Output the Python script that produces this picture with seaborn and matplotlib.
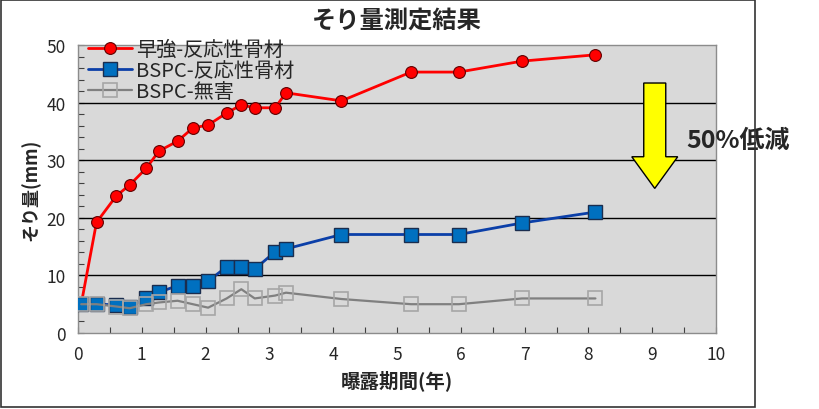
import matplotlib
matplotlib.use("Agg")
import matplotlib.pyplot as plt
from matplotlib.patches import Rectangle, FancyArrow
from matplotlib.ticker import MultipleLocator
import seaborn as sns
import pandas as pd

sns.set_style("ticks")
plt.rcParams['font.family'] = ['Noto Sans CJK JP', 'DejaVu Sans']

# ---- data ----
red_x = [0.05, 0.29, 0.60, 0.81, 1.07, 1.27, 1.56, 1.80, 2.04, 2.33, 2.56, 2.77, 3.09, 3.26, 4.13, 5.22, 5.97, 6.96, 8.11]
red_y = [5.0, 19.2, 23.8, 25.7, 28.6, 31.6, 33.3, 35.6, 36.1, 38.2, 39.6, 39.1, 39.1, 41.7, 40.3, 45.3, 45.3, 47.2, 48.3]

blue_x = [0.05, 0.29, 0.60, 0.81, 1.07, 1.27, 1.56, 1.80, 2.04, 2.33, 2.56, 2.77, 3.09, 3.26, 4.13, 5.22, 5.97, 6.96, 8.11]
blue_y = [5.0, 5.0, 4.9, 4.5, 6.1, 7.1, 8.2, 8.2, 9.0, 11.5, 11.5, 11.1, 14.1, 14.6, 17.1, 17.1, 17.1, 19.1, 21.0]

gray_x = [0.05, 0.29, 0.60, 0.81, 1.07, 1.27, 1.56, 1.80, 2.04, 2.33, 2.56, 2.77, 3.09, 3.26, 4.13, 5.22, 5.97, 6.96, 8.11]
gray_y = [5.0, 5.0, 4.6, 4.3, 5.0, 5.3, 5.6, 5.0, 4.4, 6.0, 7.6, 6.0, 6.5, 7.0, 5.9, 5.0, 5.0, 6.0, 6.0]

labels = ["早強-反応性骨材", "BSPC-反応性骨材", "BSPC-無害"]
title = "そり量測定結果"
xlabel = "曝露期間(年)"
ylabel = "そり量(mm)"
note = "50%低減"

df_red = pd.DataFrame({"x": red_x, "y": red_y})
df_blue = pd.DataFrame({"x": blue_x, "y": blue_y})
df_gray = pd.DataFrame({"x": gray_x, "y": gray_y})

fig = plt.figure(figsize=(8.19, 4.10), dpi=100)
ax = fig.add_axes([78/819, 1-334/410, (716-78)/819, (334-46)/410])
ax.set_facecolor("#d9d9d9")

sns.lineplot(data=df_red, x="x", y="y", ax=ax, estimator=None, sort=False,
             color="#ff0000", lw=2.0, marker="o", markersize=8.5,
             markerfacecolor="#ff0000", markeredgecolor="#600000", markeredgewidth=0.8,
             label=labels[0], zorder=3)
sns.lineplot(data=df_blue, x="x", y="y", ax=ax, estimator=None, sort=False,
             color="#0b3fa8", lw=2.0, marker="s", markersize=10,
             markerfacecolor="#0070c0", markeredgecolor="#1a2d4f", markeredgewidth=1.0,
             label=labels[1], zorder=4)
sns.lineplot(data=df_gray, x="x", y="y", ax=ax, estimator=None, sort=False,
             color="#808080", lw=1.6, marker="s", markersize=10,
             markerfacecolor="none", markeredgecolor="#a6a6a6", markeredgewidth=1.2,
             label=labels[2], zorder=5)

ax.set_xlim(0, 10)
ax.set_ylim(0, 50)
ax.xaxis.set_major_locator(MultipleLocator(1))
ax.xaxis.set_minor_locator(MultipleLocator(0.5))
ax.yaxis.set_major_locator(MultipleLocator(10))
ax.yaxis.set_minor_locator(MultipleLocator(2))
ax.tick_params(axis="both", which="both", direction="in", length=4, color="#404040", width=0.8)
ax.tick_params(axis="both", which="major", labelsize=12.5, pad=9)
for g in [10, 20, 30, 40]:
    ax.axhline(g, color="black", lw=1.0, zorder=1)
for s in ax.spines.values():
    s.set_color("#8c8c8c")
    s.set_linewidth(1.0)

ax.set_xlabel(xlabel, fontsize=14, fontweight="bold", labelpad=4)
ax.set_ylabel(ylabel, fontsize=13, fontweight="bold", labelpad=4)
fig.text((78+716)/2/819, 1-21/410, title, ha="center", va="center", fontsize=17.5, fontweight="bold")

h, l = ax.get_legend_handles_labels()
order = [l.index(x) for x in labels]
leg = ax.legend([h[i] for i in order], [l[i] for i in order], loc="upper left",
                bbox_to_anchor=(0.015, 1.02), frameon=False, fontsize=14.5,
                handlelength=2.2, handletextpad=0.2, labelspacing=0.0,
                borderpad=0, borderaxespad=0)
leg.set_zorder(6)

ax.add_patch(FancyArrow(9.04, 43.4, 0, -18.3, width=0.345, head_width=0.72,
                        head_length=5.5, length_includes_head=True,
                        facecolor="#ffff00", edgecolor="black", lw=1.0, zorder=6))
ax.text(9.53, 33.5, note, fontsize=18, fontweight="bold", ha="left", va="center",
        clip_on=False, zorder=7)

fig.patches.append(Rectangle((1/819, 2/410), 754/819, 407/410, transform=fig.transFigure,
                             fill=False, edgecolor="#333333", lw=1.2))

fig.savefig("out.png", dpi=100)
